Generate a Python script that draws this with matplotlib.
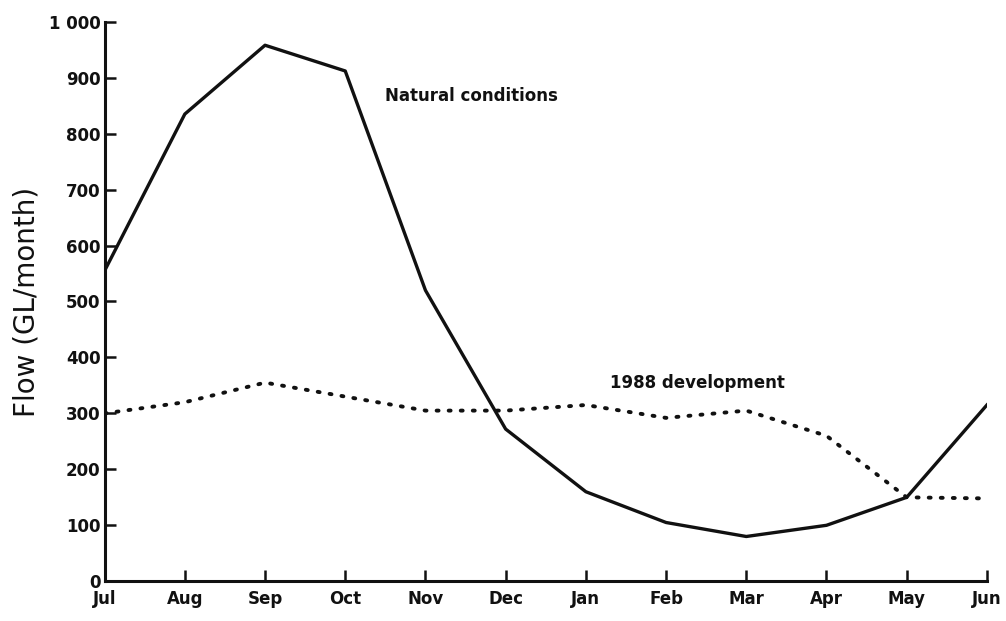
import numpy as np
import matplotlib.pyplot as plt

months = ['Jul', 'Aug', 'Sep', 'Oct', 'Nov', 'Dec', 'Jan', 'Feb', 'Mar', 'Apr', 'May', 'Jun']
natural = [555, 835, 958, 912, 520, 272, 160, 105, 80, 100, 150, 315]
dev_1988 = [300, 320, 355, 330, 305, 305, 315, 292, 305, 260, 150, 148]
yticks = [0, 100, 200, 300, 400, 500, 600, 700, 800, 900, 1000]
ytick_labels = ['0', '100', '200', '300', '400', '500', '600', '700', '800', '900', '1 000']

x = np.arange(len(months))

fig = plt.figure(figsize=(10.06, 6.21), dpi=100)
ax = fig.add_axes([0.104, 0.064, 0.877, 0.901])

ax.plot(x, natural, color='#111111', lw=2.4, solid_joinstyle='round')
ax.plot(x, dev_1988, color='#111111', lw=2.8, linestyle=(0, (0.5, 2.6)),
        dash_capstyle='round')

ax.text(3.5, 858, 'Natural conditions', fontsize=12, fontweight='bold', color='#111111')
ax.text(6.3, 345, '1988 development', fontsize=12, fontweight='bold', color='#111111')

ax.set_xlim(0, 11)
ax.set_ylim(0, 1000)
ax.set_xticks(x)
ax.set_xticklabels(months, fontsize=12, fontweight='bold')
ax.set_yticks(yticks)
ax.set_yticklabels(ytick_labels, fontsize=12, fontweight='bold')
ax.tick_params(direction='in', length=8, width=1.8, pad=6, colors='#111111')
ax.tick_params(axis='y', pad=3)

for s in ['top', 'right']:
    ax.spines[s].set_visible(False)
for s in ['left', 'bottom']:
    ax.spines[s].set_linewidth(2.2)
    ax.spines[s].set_color('#111111')

ax.set_ylabel('Flow (GL/month)', fontsize=20, color='#111111', labelpad=6)

fig.savefig('out.png', dpi=100)
